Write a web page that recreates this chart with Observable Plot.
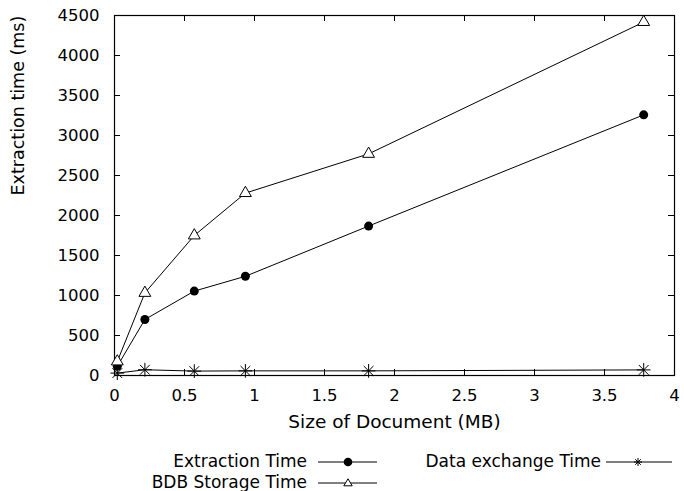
<!DOCTYPE html>
<html><head><meta charset="utf-8">
<script src="https://cdn.jsdelivr.net/npm/d3@7"></script>
<script src="https://cdn.jsdelivr.net/npm/@observablehq/plot@0.6"></script>
<style>
body{margin:0;background:#fff;font-family:"DejaVu Sans",sans-serif;}
#wrap{position:relative;width:684px;height:491px;overflow:hidden;}
.lg{position:absolute;font-size:17px;line-height:17px;color:#000;white-space:nowrap;}
</style></head>
<body><div id="wrap"><div id="chart"></div><div id="legend"></div></div>
<script>
const sizes = [0.02, 0.217, 0.57, 0.935, 1.815, 3.78];
const extraction = [116, 700, 1055, 1240, 1868, 3258];
const bdbStorage = [175, 1032, 1750, 2280, 2770, 4418];
const dataExchange = [30, 72, 55, 58, 58, 70];
const seriesNames = ["Extraction Time", "BDB Storage Time", "Data exchange Time"];
const xTicks = [0, 0.5, 1, 1.5, 2, 2.5, 3, 3.5, 4];
const yTicks = [0, 500, 1000, 1500, 2000, 2500, 3000, 3500, 4000, 4500];

const W = 684, H = 440, mL = 114, mR = 10, mT = 15, mB = 65;
const pw = W - mL - mR, ph = H - mT - mB;
const rows = (ys) => sizes.map((x, i) => ({x, y: ys[i]}));
const ext = rows(extraction), bdb = rows(bdbStorage), dex = rows(dataExchange);
const tl = 6;

const chart = Plot.plot({
  width: W, height: H,
  marginLeft: mL, marginRight: mR, marginTop: mT, marginBottom: mB,
  style: {fontFamily: "'DejaVu Sans', sans-serif", fontSize: "16.5px", color: "#000", background: "#fff"},
  x: {domain: [0, 4]},
  y: {domain: [0, 4500]},
  marks: [
    Plot.axisX(xTicks, {tickSize: 0, tickPadding: 14, label: null, fontSize: 16.5, tickFormat: d => String(d)}),
    Plot.axisY(yTicks, {tickSize: 0, tickPadding: 15, label: null, fontSize: 16.5, tickFormat: d => String(d)}),
    Plot.tickX(xTicks, {x: d => d, insetTop: ph - tl, stroke: "#000"}),
    Plot.tickX(xTicks, {x: d => d, insetBottom: ph - tl, stroke: "#000"}),
    Plot.tickY(yTicks, {y: d => d, insetRight: pw - tl, stroke: "#000"}),
    Plot.tickY(yTicks, {y: d => d, insetLeft: pw - tl, stroke: "#000"}),
    Plot.frame({stroke: "#000", strokeWidth: 1.2}),
    Plot.line(ext, {x: "x", y: "y", stroke: "#000", strokeWidth: 1}),
    Plot.line(bdb, {x: "x", y: "y", stroke: "#000", strokeWidth: 1}),
    Plot.line(dex, {x: "x", y: "y", stroke: "#000", strokeWidth: 1}),
    Plot.dot(ext, {x: "x", y: "y", r: 4.5, fill: "#000", stroke: "none"}),
    Plot.dot(bdb, {x: "x", y: "y", symbol: "triangle", r: 4.4, fill: "#fff", stroke: "#000", strokeWidth: 1}),
    Plot.dot(dex, {x: "x", y: "y", symbol: "plus", r: 4.5, stroke: "#000", strokeWidth: 1}),
    Plot.dot(dex, {x: "x", y: "y", symbol: "times", r: 4.5, stroke: "#000", strokeWidth: 1}),
    Plot.text(["Size of Document (MB)"], {frameAnchor: "bottom", dy: 52, text: d => d, fontSize: 18.5}),
    Plot.text(["Extraction time (ms)"], {frameAnchor: "left", dx: -96, rotate: -90, text: d => d, fontSize: 17.5})
  ]
});
document.getElementById("chart").appendChild(chart);

// legend
const lg = document.getElementById("legend");
function sample(kind){
  let m = "";
  if (kind === 0) m = '<circle cx="30" cy="6" r="4.3" fill="#000"/>';
  if (kind === 1) m = '<path d="M30,1.8 L34.2,8.8 L25.8,8.8 Z" fill="#fff" stroke="#000"/>';
  if (kind === 2) m = '<path d="M32,2V10M28,6H36M29.2,3.2L34.8,8.8M34.8,3.2L29.2,8.8" stroke="#000" fill="none"/>';
  return '<svg width="66" height="12" style="display:block"><line x1="0" y1="6" x2="66" y2="6" stroke="#000"/>' + m + '</svg>';
}
const items = [
  {name: seriesNames[0], right: 307, sx: 318, ly: 462, sw: 59},
  {name: seriesNames[1], right: 307, sx: 318, ly: 483, sw: 59},
  {name: seriesNames[2], right: 601, sx: 606, ly: 462, sw: 66}
];
items.forEach((it, k) => {
  const t = document.createElement("div");
  t.className = "lg";
  t.style.right = (684 - it.right) + "px";
  t.style.top = (it.ly - 9) + "px";
  t.textContent = it.name;
  lg.appendChild(t);
  const s = document.createElement("div");
  s.className = "lg";
  s.style.left = it.sx + "px";
  s.style.top = (it.ly - 6) + "px";
  s.innerHTML = sample(k).replace('width="66"', 'width="' + it.sw + '"').replace('x2="66"', 'x2="' + it.sw + '"');
  lg.appendChild(s);
});
</script></body></html>
